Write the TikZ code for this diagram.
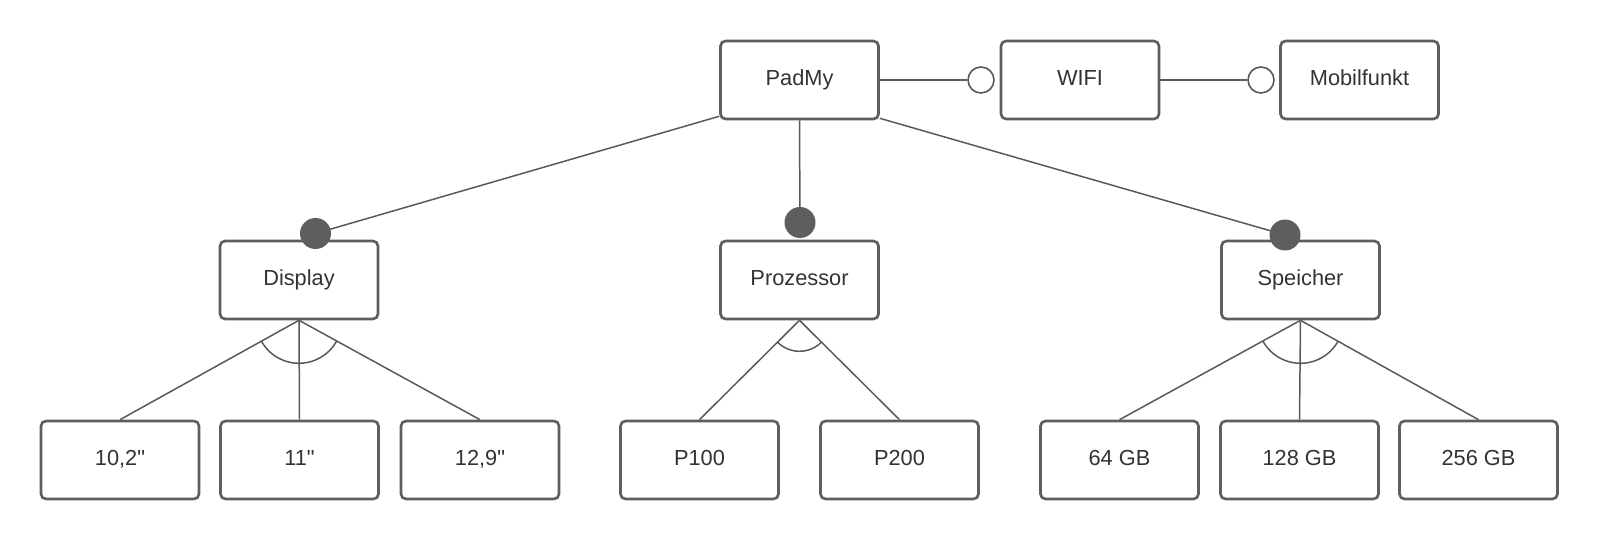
\documentclass[tikz,border=0pt]{standalone}
\usepackage{fontspec}
\setmainfont{Liberation Sans}[Ligatures=TeXOff]
\usetikzlibrary{backgrounds,calc}
\definecolor{boxline}{HTML}{5E5E5E}
\definecolor{conline}{HTML}{595959}
\definecolor{txt}{HTML}{333333}
\definecolor{dotfill}{HTML}{5E5E5E}
\tikzset{
  feat/.style={draw=boxline, line width=1.5pt, rounded corners=0.1cm, fill=white,
    minimum width=3.16cm, minimum height=1.56cm, inner sep=0pt,
    text height=0.8em, text depth=0.14em,
    text=txt, font=\fontsize{12.4}{14}\selectfont},
  opendot/.style={circle, draw=conline, line width=0.9pt, fill=white, minimum size=0.52cm, inner sep=0pt},
  fulldot/.style={circle, fill=dotfill, draw=none, minimum size=0.62cm, inner sep=0pt},
  conn/.style={draw=conline, line width=0.85pt},
}
\begin{document}
\begin{tikzpicture}[x=0.02cm,y=0.02cm]
\useasboundingbox (0,0) rectangle (1599,-540);
% top row
\node[feat] (padmy) at (799.5,-80) {PadMy};
\node[feat] (wifi) at (1080,-80) {WIFI};
\node[feat] (mobil) at (1359.5,-80) {Mobilfunkt};
\node[opendot] (c1) at (981,-80) {};
\node[opendot] (c2) at (1261,-80) {};
% middle row
\node[feat] (disp) at (299,-280) {Display};
\node[feat] (proz) at (799.5,-280) {Prozessor};
\node[feat] (spei) at (1300.5,-280) {Speicher};
\node[fulldot] (d1) at (315.5,-233.5) {};
\node[fulldot] (d2) at (800,-222.5) {};
\node[fulldot] (d3) at (1285,-235) {};
% leaves
\node[feat] (l1) at (120,-460) {10,2"};
\node[feat] (l2) at (299.5,-460) {11"};
\node[feat] (l3) at (480,-460) {12,9"};
\node[feat] (p1) at (699.5,-460) {P100};
\node[feat] (p2) at (899.5,-460) {P200};
\node[feat] (s1) at (1119.5,-460) {64 GB};
\node[feat] (s2) at (1299.5,-460) {128 GB};
\node[feat] (s3) at (1478.5,-460) {256 GB};
\begin{scope}[on background layer]
  \draw[conn] (padmy.east) -- (c1.west);
  \draw[conn] (wifi.east) -- (c2.west);
  \draw[conn] ($(padmy.south west)+(0,4)$) -- (d1.center);
  \draw[conn] (padmy.south) -- (d2.center);
  \draw[conn] ($(padmy.south east)+(0,2)$) -- (d3.center);
  % Display group
  \draw[conn] (disp.south) -- (l1.north);
  \draw[conn] (disp.south) -- (l2.north);
  \draw[conn] (disp.south) -- (l3.north);
  \draw[conn] ([shift={(208.8:0.86cm)}]disp.south) arc[start angle=208.8, end angle=331.2, radius=0.86cm];
  % Prozessor group
  \draw[conn] (proz.south) -- (p1.north);
  \draw[conn] (proz.south) -- (p2.north);
  \draw[conn] ([shift={(224.7:0.62cm)}]proz.south) arc[start angle=224.7, end angle=315.3, radius=0.62cm];
  % Speicher group
  \draw[conn] (spei.south) -- (s1.north);
  \draw[conn] (spei.south) -- (s2.north);
  \draw[conn] (spei.south) -- (s3.north);
  \draw[conn] ([shift={(208.8:0.86cm)}]spei.south) arc[start angle=208.8, end angle=331.2, radius=0.86cm];
\end{scope}
\end{tikzpicture}
\end{document}
